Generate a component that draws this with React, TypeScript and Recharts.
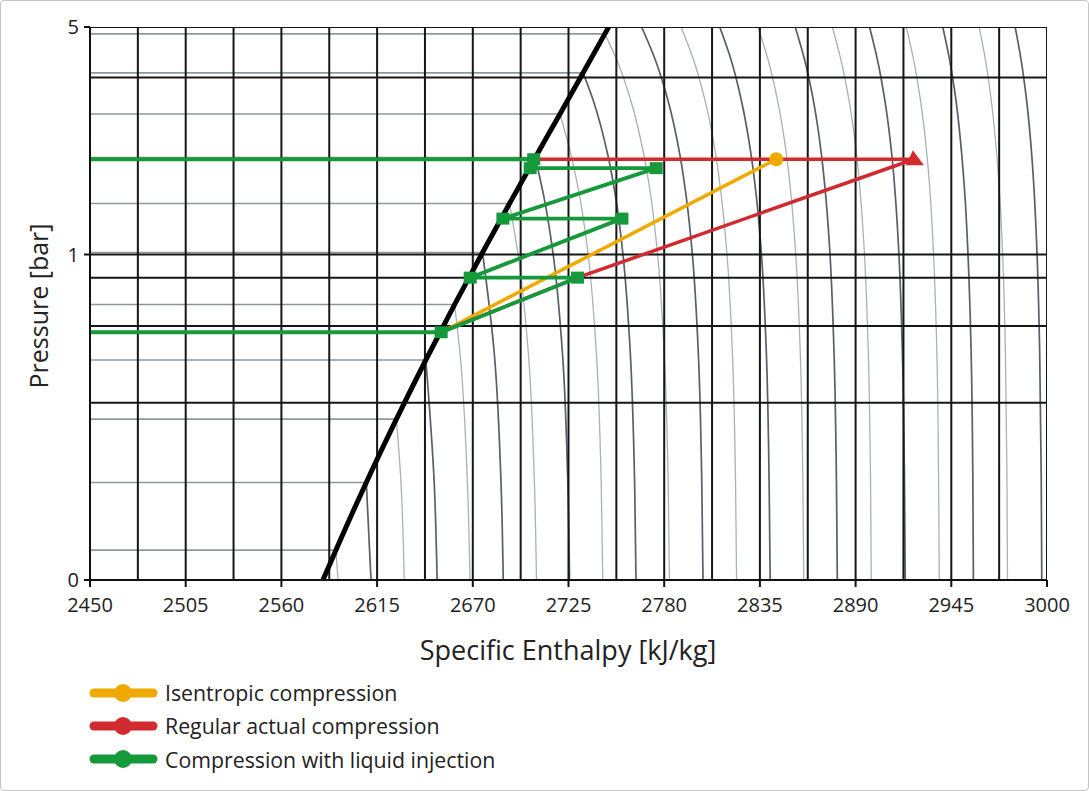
import React from 'react';
import { ComposedChart, Line, XAxis, YAxis } from 'recharts';

// ---- axes ----
const xTicks = [2450, 2505, 2560, 2615, 2670, 2725, 2780, 2835, 2890, 2945, 3000];
const yTicks = [0.1, 1, 5];
const yTickLabels: Record<string, string> = { '0.1': '0', '1': '1', '5': '5' };

// ---- grid (black) ----
const gridEnthalpy = [2450, 2477.5, 2505, 2532.5, 2560, 2587.5, 2615, 2642.5, 2670, 2697.5, 2725, 2752.5, 2780, 2807.5, 2835, 2862.5, 2890, 2917.5, 2945, 2972.5, 3000];
const gridPressure = [5, 3.5, 1, 0.849, 0.603, 0.3507, 0.1];

// ---- isotherms ----
const isoTemps = [50, 60, 70, 80, 90, 100, 110, 120, 130, 140, 150, 160, 170, 180, 190, 200, 210, 220, 230, 240, 250, 260];
const isoSatPressure = [0.1235, 0.1994, 0.312, 0.4741, 0.7018, 1.0142, 1.4338, 1.9867, 2.7028, 3.6154, 4.7616];
const isoSatEnthalpy = [2591.3, 2608.8, 2626.1, 2643.0, 2659.5, 2675.6, 2691.1, 2705.9, 2720.1, 2733.4, 2745.9];
const isoPressures = [5, 4, 3, 2, 1.5, 1, 0.5, 0.2, 0.1];
const isoEnthalpy: (number | null)[][] = [
  [null, null, null, null, null, null, null, null, 2592.6],
  [null, null, null, null, null, null, null, null, 2611.5],
  [null, null, null, null, null, null, null, 2628.7, 2630.6],
  [null, null, null, null, null, null, null, 2647.8, 2649.5],
  [null, null, null, null, null, null, 2662.6, 2666.9, 2668.4],
  [null, null, null, null, null, null, 2682.3, 2686.2, 2687.5],
  [null, null, null, null, null, 2696.0, 2701.9, 2705.4, 2706.6],
  [null, null, null, null, 2710.9, 2716.2, 2721.5, 2724.6, 2725.6],
  [null, null, null, 2726.7, 2731.5, 2736.3, 2741.0, 2743.8, 2744.7],
  [null, null, 2739.0, 2747.8, 2752.1, 2756.3, 2760.5, 2763.0, 2763.8],
  [null, 2752.4, 2760.6, 2768.5, 2772.4, 2776.2, 2780.0, 2782.3, 2783.0],
  [2767.0, 2774.6, 2782.0, 2789.2, 2792.7, 2796.2, 2799.6, 2801.6, 2802.3],
  [2789.7, 2796.6, 2803.3, 2809.8, 2812.9, 2816.1, 2819.2, 2821.0, 2821.6],
  [2811.9, 2818.2, 2824.2, 2830.1, 2833.0, 2835.9, 2838.7, 2840.3, 2840.9],
  [2833.9, 2839.5, 2845.0, 2850.4, 2853.0, 2855.6, 2858.2, 2859.7, 2860.2],
  [2855.3, 2860.5, 2865.6, 2870.5, 2872.9, 2875.3, 2877.6, 2879.0, 2879.5],
  [2876.6, 2881.4, 2886.1, 2890.7, 2892.9, 2895.1, 2897.3, 2898.6, 2899.0],
  [2898.0, 2902.4, 2906.7, 2910.9, 2912.9, 2914.9, 2916.9, 2918.1, 2918.5],
  [2919.1, 2923.2, 2927.2, 2931.1, 2933.0, 2934.8, 2936.7, 2937.7, 2938.1],
  [2940.1, 2943.9, 2947.6, 2951.1, 2952.9, 2954.6, 2956.4, 2957.4, 2957.7],
  [2961.0, 2964.5, 2967.9, 2971.2, 2972.9, 2974.5, 2976.1, 2977.0, 2977.3],
  [2981.7, 2985.0, 2988.2, 2991.3, 2992.8, 2994.3, 2995.8, 2996.7, 2997.0],
];

// ---- saturated vapour line ----
const satLinePressure = [5.0, 4.7616, 3.6154, 2.7028, 1.9867, 1.4338, 1.0142, 0.7018, 0.4741, 0.312, 0.1994, 0.1235, 0.1];
const satLineEnthalpy = [2748.1, 2745.9, 2733.4, 2720.1, 2705.9, 2691.1, 2675.6, 2659.5, 2643.0, 2626.1, 2608.8, 2591.3, 2583.9];

// ---- compression processes ----
const greenEnthalpy = [2450, 2651.8, 2730.2, 2668.5, 2755.7, 2687.3, 2775.4, 2703.0, 2705.0, 2450];
const greenPressure = [0.577, 0.577, 0.849, 0.849, 1.289, 1.289, 1.842, 1.842, 1.962, 1.962];
const greenMarkerIdx = [1, 2, 3, 4, 5, 6, 7, 8];
const redEnthalpy = [2651.8, 2730.2, 2923.5, 2705.0];
const redPressure = [0.577, 0.849, 1.962, 1.962];
const orangeEnthalpy = [2651.8, 2844.4];
const orangePressure = [0.577, 1.962];

const legendItems = [
  { name: 'Isentropic compression', color: '#eeaa00' },
  { name: 'Regular actual compression', color: '#d12a2f' },
  { name: 'Compression with liquid injection', color: '#16993a' },
];

type Pt = { h: number; p: number };
const zip = (hs: number[], ps: number[]): Pt[] => hs.map((h, i) => ({ h, p: ps[i] }));

const GREEN = '#16993a';
const RED = '#d12a2f';
const ORANGE = '#eeaa00';

const FONT = '"Open Sans", "Noto Sans", sans-serif';

export default function App() {
  const vGrid = gridEnthalpy.map((h) => [{ h, p: 0.1 }, { h, p: 5 }]);
  const hGrid = gridPressure.map((p) => [{ h: 2450, p }, { h: 3000, p }]);

  const wetLines = isoSatPressure.map((p, i) => [{ h: 2450, p }, { h: isoSatEnthalpy[i], p }]);
  const curves = isoTemps.map((t, i) => {
    const pts: Pt[] = [];
    if (i < isoSatPressure.length) pts.push({ h: isoSatEnthalpy[i], p: isoSatPressure[i] });
    isoEnthalpy[i].forEach((h, j) => {
      if (h != null) pts.push({ h, p: isoPressures[j] });
    });
    return { t, pts };
  });

  const satLine = zip(satLineEnthalpy, satLinePressure);
  const green = zip(greenEnthalpy, greenPressure);
  const greenMarks = greenMarkerIdx.map((i) => green[i]);
  const red = zip(redEnthalpy, redPressure);
  const orange = zip(orangeEnthalpy, orangePressure);

  const square = (props: any) => (
    <rect key={`sq-${props.index}`} x={props.cx - 6.5} y={props.cy - 6} width={13} height={12} fill={GREEN} />
  );
  const triangle = (props: any) => {
    if (props.index !== 2) return <g key={`tr-${props.index}`} />;
    const { cx, cy } = props;
    return (
      <polygon key={`tr-${props.index}`} points={`${cx - 1},${cy - 9} ${cx + 10},${cy + 6} ${cx - 8},${cy + 6}`} fill={RED} />
    );
  };
  const circle = (props: any) => {
    if (props.index !== 1) return <g key={`ci-${props.index}`} />;
    return <circle key={`ci-${props.index}`} cx={props.cx} cy={props.cy} r={7} fill={ORANGE} />;
  };

  return (
    <div style={{ position: 'absolute', left: 0, top: 0, width: 1089, height: 791, background: '#fff', fontFamily: FONT }}>
      <ComposedChart width={1089} height={791} margin={{ top: 27, right: 42, bottom: 131, left: 20 }}>
        <XAxis
          type="number"
          dataKey="h"
          domain={[2450, 3000]}
          ticks={xTicks}
          allowDataOverflow
          height={80}
          tickSize={7}
          tickMargin={11}
          axisLine={{ stroke: '#111', strokeWidth: 2 }}
          tickLine={{ stroke: '#111', strokeWidth: 2 }}
          tick={{ fill: '#222', fontSize: 20, fontFamily: FONT }}
        />
        <YAxis
          type="number"
          scale="log"
          domain={[0.1, 5]}
          ticks={yTicks}
          allowDataOverflow
          width={70}
          tickSize={6}
          tickMargin={5}
          tickFormatter={(v: number) => yTickLabels[String(v)] ?? String(v)}
          axisLine={{ stroke: '#111', strokeWidth: 2 }}
          tickLine={{ stroke: '#111', strokeWidth: 2 }}
          tick={{ fill: '#222', fontSize: 20, fontFamily: FONT }}
        />
        {wetLines.map((d, i) => (
          <Line key={`wet-${i}`} data={d} dataKey="p" type="linear" stroke="#8e979f" strokeWidth={1.6} dot={false} activeDot={false} isAnimationActive={false} />
        ))}
        {curves.map((c) => (
          <Line
            key={`iso-${c.t}`}
            data={c.pts}
            dataKey="p"
            type="monotoneY"
            stroke={(c.t / 10) % 2 === 0 ? '#55606a' : '#a9b1b8'}
            strokeWidth={(c.t / 10) % 2 === 0 ? 1.7 : 1.3}
            dot={false}
            activeDot={false}
            isAnimationActive={false}
          />
        ))}
        {vGrid.map((d, i) => (
          <Line key={`vg-${i}`} data={d} dataKey="p" type="linear" stroke="#161616" strokeWidth={2} dot={false} activeDot={false} isAnimationActive={false} />
        ))}
        {hGrid.map((d, i) => (
          <Line key={`hg-${i}`} data={d} dataKey="p" type="linear" stroke="#161616" strokeWidth={2} dot={false} activeDot={false} isAnimationActive={false} />
        ))}
        <Line data={satLine} dataKey="p" type="monotoneY" stroke="#000" strokeWidth={5} dot={false} activeDot={false} isAnimationActive={false} />
        <Line data={orange} dataKey="p" type="linear" stroke={ORANGE} strokeWidth={3.5} dot={circle} activeDot={false} isAnimationActive={false} />
        <Line data={red} dataKey="p" type="linear" stroke={RED} strokeWidth={3.5} dot={triangle} activeDot={false} isAnimationActive={false} />
        <Line data={green} dataKey="p" type="linear" stroke={GREEN} strokeWidth={3.8} dot={false} activeDot={false} isAnimationActive={false} />
        <Line data={greenMarks} dataKey="p" type="linear" stroke="none" dot={square} activeDot={false} isAnimationActive={false} />
      </ComposedChart>

      {/* axis titles */}
      <div style={{ position: 'absolute', left: 0, width: 1136, top: 632, textAlign: 'center', fontSize: 27, lineHeight: '36px', color: '#222', whiteSpace: 'nowrap' }}>
        Specific Enthalpy [kJ/kg]
      </div>
      <div
        style={{
          position: 'absolute',
          left: 38 - 150,
          top: 306 - 18,
          width: 300,
          lineHeight: '36px',
          textAlign: 'center',
          fontSize: 25,
          color: '#222',
          whiteSpace: 'nowrap',
          transform: 'rotate(-90deg)',
        }}
      >
        Pressure [bar]
      </div>

      {/* legend */}
      {legendItems.map((it, i) => (
        <div key={it.name} style={{ position: 'absolute', left: 88, top: 692.5 + i * 33.3 - 14, height: 28, display: 'flex', alignItems: 'center' }}>
          <svg width={70} height={24} style={{ display: 'block' }}>
            <line x1={6} y1={12} x2={65} y2={12} stroke={it.color} strokeWidth={9} strokeLinecap="round" />
            <circle cx={35} cy={12} r={9} fill={it.color} />
          </svg>
          <span style={{ marginLeft: 7, fontSize: 21.3, color: '#222', whiteSpace: 'nowrap' }}>{it.name}</span>
        </div>
      ))}

      {/* outer frame */}
      <div style={{ position: 'absolute', left: 0, top: 0, width: 1089, height: 791, boxSizing: 'border-box', border: '1px solid #c4c4c4', borderRadius: 4, pointerEvents: 'none' }} />
    </div>
  );
}
